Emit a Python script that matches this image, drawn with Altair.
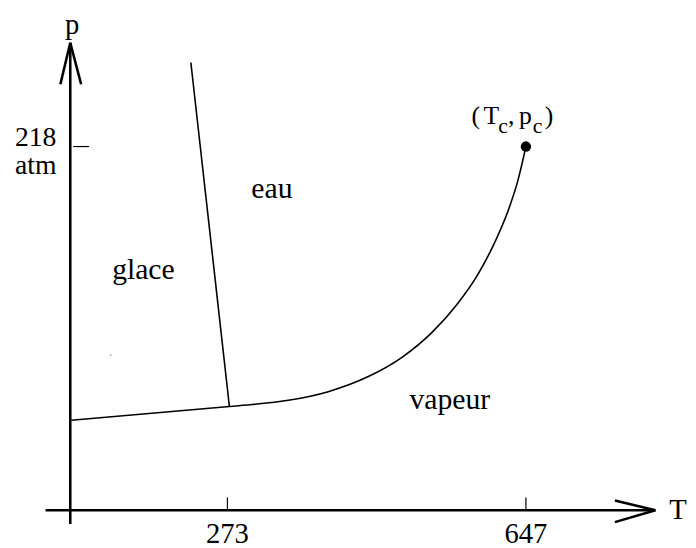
import altair as alt
import pandas as pd

# Schematic coordinates (origin at the crossing of the two axes)
# Phase boundaries
fusion_T = [122, 161]
fusion_p = [453, 105]
sublim_T = [1, 161]
sublim_p = [91, 105]
vap_T = [161, 184, 219, 261, 301, 336, 366, 391, 412, 429, 443, 453, 461]
vap_p = [105, 107, 111, 120, 135, 155, 180, 208, 238, 270, 303, 334, 368]

# Critical point
crit_T = [461]
crit_p = [368]

# Axis ticks and labels
xtick_pos = [159, 461]
xtick_labels = ["273", "647"]
ytick_pos = [368]
ytick_labels = ["218", "atm"]

# Region labels
region_names = ["glace", "eau", "vapeur"]
region_T = [74, 204, 384]
region_p = [243, 325, 111]

# Critical point label pieces
crit_main_txt = ["(", "T", ",", "p", ")"]
crit_main_x = [406, 418, 443, 454, 480]
crit_sub_txt = ["c", "c"]
crit_sub_x = [433, 468]

# Axis extents
x_axis = [-25, 592]
y_axis = [-14, 473]
arrow_len = 41
arrow_half = 11

W, H = 688, 540
xdom = [-63, 625]
ydom = [-35, 505]
xs = alt.Scale(domain=xdom, nice=False, zero=False)
ys = alt.Scale(domain=ydom, nice=False, zero=False)
FONT = "Liberation Serif"

# segments: axes, arrow heads, ticks, straight boundaries
segs = []
segs.append(dict(x=x_axis[0], y=0, x2=x_axis[1], y2=0, w=2.6))
segs.append(dict(x=0, y=y_axis[0], x2=0, y2=y_axis[1], w=2.6))
segs.append(dict(x=x_axis[1] - arrow_len, y=arrow_half - 1, x2=x_axis[1], y2=0, w=2.6))
segs.append(dict(x=x_axis[1] - arrow_len, y=-arrow_half - 1, x2=x_axis[1], y2=0, w=2.6))
segs.append(dict(x=-arrow_half + 1, y=y_axis[1] - arrow_len - 1, x2=0, y2=y_axis[1], w=2.6))
segs.append(dict(x=arrow_half, y=y_axis[1] - arrow_len - 1, x2=0, y2=y_axis[1], w=2.6))
for t in xtick_pos:
    segs.append(dict(x=t, y=0, x2=t, y2=13, w=1.2))
for t in ytick_pos:
    segs.append(dict(x=3, y=t, x2=19, y2=t, w=1.2))
segs.append(dict(x=fusion_T[0], y=fusion_p[0], x2=fusion_T[1], y2=fusion_p[1], w=1.6))
segs.append(dict(x=sublim_T[0], y=sublim_p[0], x2=sublim_T[1], y2=sublim_p[1], w=1.6))
seg_df = pd.DataFrame(segs)

base_enc = dict(
    x=alt.X("x:Q", scale=xs, axis=None),
    y=alt.Y("y:Q", scale=ys, axis=None),
)

seg_layer = alt.Chart(seg_df).mark_rule(color="black", strokeCap="butt").encode(
    x=alt.X("x:Q", scale=xs, axis=None),
    y=alt.Y("y:Q", scale=ys, axis=None),
    x2="x2:Q",
    y2="y2:Q",
    strokeWidth=alt.StrokeWidth("w:Q", scale=None, legend=None),
)

curve_df = pd.DataFrame({"x": vap_T, "y": vap_p, "o": list(range(len(vap_T)))})
curve = alt.Chart(curve_df).mark_line(color="black", strokeWidth=1.6, interpolate="monotone").encode(
    x=alt.X("x:Q", scale=xs, axis=None),
    y=alt.Y("y:Q", scale=ys, axis=None),
    order="o:Q",
)

crit = alt.Chart(pd.DataFrame({"x": crit_T, "y": crit_p})).mark_point(
    filled=True, color="black", size=110, opacity=1
).encode(**base_enc)

stray = alt.Chart(pd.DataFrame({"x": [41], "y": [157]})).mark_point(
    filled=True, color="#555", size=2, opacity=1
).encode(**base_enc)


def text_layer(df, size, align="center", baseline="middle"):
    return alt.Chart(df).mark_text(
        font=FONT, fontSize=size, color="black", align=align, baseline=baseline
    ).encode(
        x=alt.X("x:Q", scale=xs, axis=None),
        y=alt.Y("y:Q", scale=ys, axis=None),
        text="t:N",
    )


regions = text_layer(pd.DataFrame({"x": region_T, "y": region_p, "t": region_names}), 30)
xt = text_layer(pd.DataFrame({"x": xtick_pos, "y": [-24, -24], "t": xtick_labels}), 29)
yt = text_layer(
    pd.DataFrame({"x": [-14, -14], "y": [ytick_pos[0] + 9, ytick_pos[0] - 20], "t": ytick_labels}),
    28, align="right",
)
axis_names = alt.layer(
    text_layer(pd.DataFrame({"x": [606], "y": [0], "t": ["T"]}), 29, align="left"),
    text_layer(pd.DataFrame({"x": [2], "y": [491], "t": ["p"]}), 29),
)

crit_main = text_layer(
    pd.DataFrame({"x": crit_main_x, "y": [391] * len(crit_main_x), "t": crit_main_txt}),
    26, align="left", baseline="alphabetic",
)
crit_sub = text_layer(
    pd.DataFrame({"x": crit_sub_x, "y": [382] * len(crit_sub_x), "t": crit_sub_txt}),
    22, align="left", baseline="alphabetic",
)

chart = alt.layer(
    seg_layer, curve, crit, stray, regions, xt, yt, axis_names, crit_main, crit_sub
).properties(
    width=W, height=H, padding=0, autosize=alt.AutoSizeParams(type="none")
).configure_view(stroke=None)

chart.save("out.html", embed_options={"renderer": "svg", "actions": False})
